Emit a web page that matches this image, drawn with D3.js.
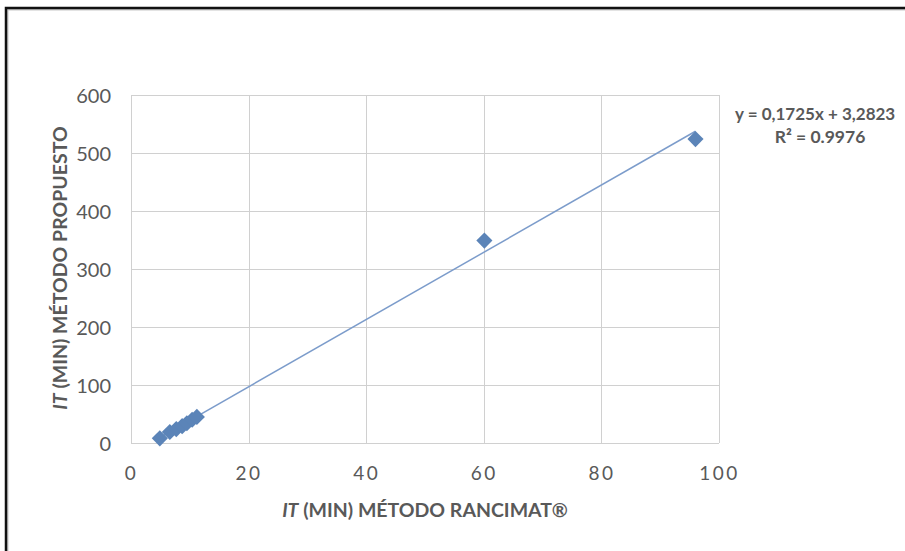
<!DOCTYPE html>
<html><head><meta charset="utf-8">
<script src="https://cdn.jsdelivr.net/npm/d3@7"></script>
<style>
html,body{margin:0;padding:0;background:#fff;}
svg{display:block;}
</style></head>
<body>
<svg id="chart" width="905" height="551"></svg>
<script>
// Data
const rancimat = [4.9, 6.6, 7.7, 8.7, 9.5, 10.4, 11.2, 60.1, 96.0];
const propuesto = [8, 19, 24, 29, 34, 40, 45, 349, 524];
const xTicks = [0, 20, 40, 60, 80, 100];
const yTicks = [0, 100, 200, 300, 400, 500, 600];
// Trendline as shown (x as function of y): x = a*y + b
const trendA = 0.1725, trendB = 3.2823;
const eqText = "y = 0,1725x + 3,2823";
const r2Text = "R² = 0.9976";

const svg = d3.select("#chart");
const W = 905, H = 551;
const x = d3.scaleLinear().domain([0, 100]).range([131, 719]);
const y = d3.scaleLinear().domain([0, 600]).range([443, 95]);
const textCol = "#595959", gridCol = "#d0d0d0", markCol = "#5b84b8", lineCol = "#7c9ccb";
const font = "Lato, 'Open Sans', sans-serif";

svg.append("rect").attr("width", W).attr("height", H).attr("fill", "#fff");

// outer frame (extends off the right and bottom)
svg.append("rect").attr("x", 7.5).attr("y", 9.5).attr("width", 1100).attr("height", 800)
  .attr("fill", "none").attr("stroke", "#c8c8c8").attr("stroke-width", 2);
svg.append("rect").attr("x", 6).attr("y", 8).attr("width", 1100).attr("height", 800)
  .attr("fill", "none").attr("stroke", "#111").attr("stroke-width", 2.5);

// gridlines
const g = svg.append("g");
g.selectAll(".gy").data(yTicks).join("line")
  .attr("x1", x(0)).attr("x2", x(100)).attr("y1", d => Math.round(y(d)) + 0.5).attr("y2", d => Math.round(y(d)) + 0.5)
  .attr("stroke", gridCol).attr("stroke-width", 1);
g.selectAll(".gx").data(xTicks).join("line")
  .attr("y1", y(0)).attr("y2", y(600)).attr("x1", d => Math.round(x(d)) + 0.5).attr("x2", d => Math.round(x(d)) + 0.5)
  .attr("stroke", gridCol).attr("stroke-width", 1);

// axes (labels only)
const xAxis = d3.axisBottom(x).tickValues(xTicks).tickSize(0).tickPadding(0);
const gx = svg.append("g").attr("transform", `translate(0,${y(0)})`).call(xAxis);
gx.select(".domain").remove();
gx.selectAll("text").attr("dy", null).attr("y", 37).attr("fill", textCol)
  .style("font-family", font).style("font-size", "19px").style("letter-spacing", "2.5px");

const yAxis = d3.axisLeft(y).tickValues(yTicks).tickSize(0).tickPadding(0);
const gy = svg.append("g").attr("transform", `translate(${x(0)},0)`).call(yAxis);
gy.select(".domain").remove();
gy.selectAll("text").attr("x", -20).attr("dy", "0.35em").attr("fill", textCol)
  .style("font-family", font).style("font-size", "20px");

// trendline (inverse of the displayed equation)
const xMin = d3.min(rancimat), xMax = d3.max(rancimat);
const trend = v => (v - trendB) / trendA;
svg.append("line")
  .attr("x1", x(xMin)).attr("y1", y(trend(xMin)))
  .attr("x2", x(xMax)).attr("y2", y(trend(xMax)))
  .attr("stroke", lineCol).attr("stroke-width", 1.5);

// markers
const pts = rancimat.map((v, i) => ({ x: v, y: propuesto[i] }));
svg.append("g").selectAll("path").data(pts).join("path")
  .attr("d", d3.symbol().type(d3.symbolSquare).size(130))
  .attr("transform", d => `translate(${x(d.x)},${y(d.y)}) rotate(45)`)
  .attr("fill", markCol);

// axis titles
const yt = svg.append("text").attr("transform", `translate(67,268) rotate(-90)`)
  .attr("text-anchor", "middle").attr("fill", textCol)
  .style("font-family", font).style("font-size", "19.5px").style("font-weight", "bold");
yt.append("tspan").style("font-style", "italic").text("IT");
yt.append("tspan").text(" (MIN) MÉTODO PROPUESTO");

const xt = svg.append("text").attr("x", 425).attr("y", 517)
  .attr("text-anchor", "middle").attr("fill", textCol)
  .style("font-family", font).style("font-size", "19.5px").style("font-weight", "bold");
xt.append("tspan").style("font-style", "italic").text("IT");
xt.append("tspan").text(" (MIN) MÉTODO RANCIMAT®");

// equation
svg.append("text").attr("x", 735).attr("y", 120).attr("fill", textCol)
  .style("font-family", font).style("font-size", "17px").style("font-weight", "bold").text(eqText);
svg.append("text").attr("x", 820).attr("y", 143).attr("text-anchor", "middle").attr("fill", textCol)
  .style("font-family", font).style("font-size", "17.5px").style("font-weight", "bold").text(r2Text);
</script>
</body></html>
